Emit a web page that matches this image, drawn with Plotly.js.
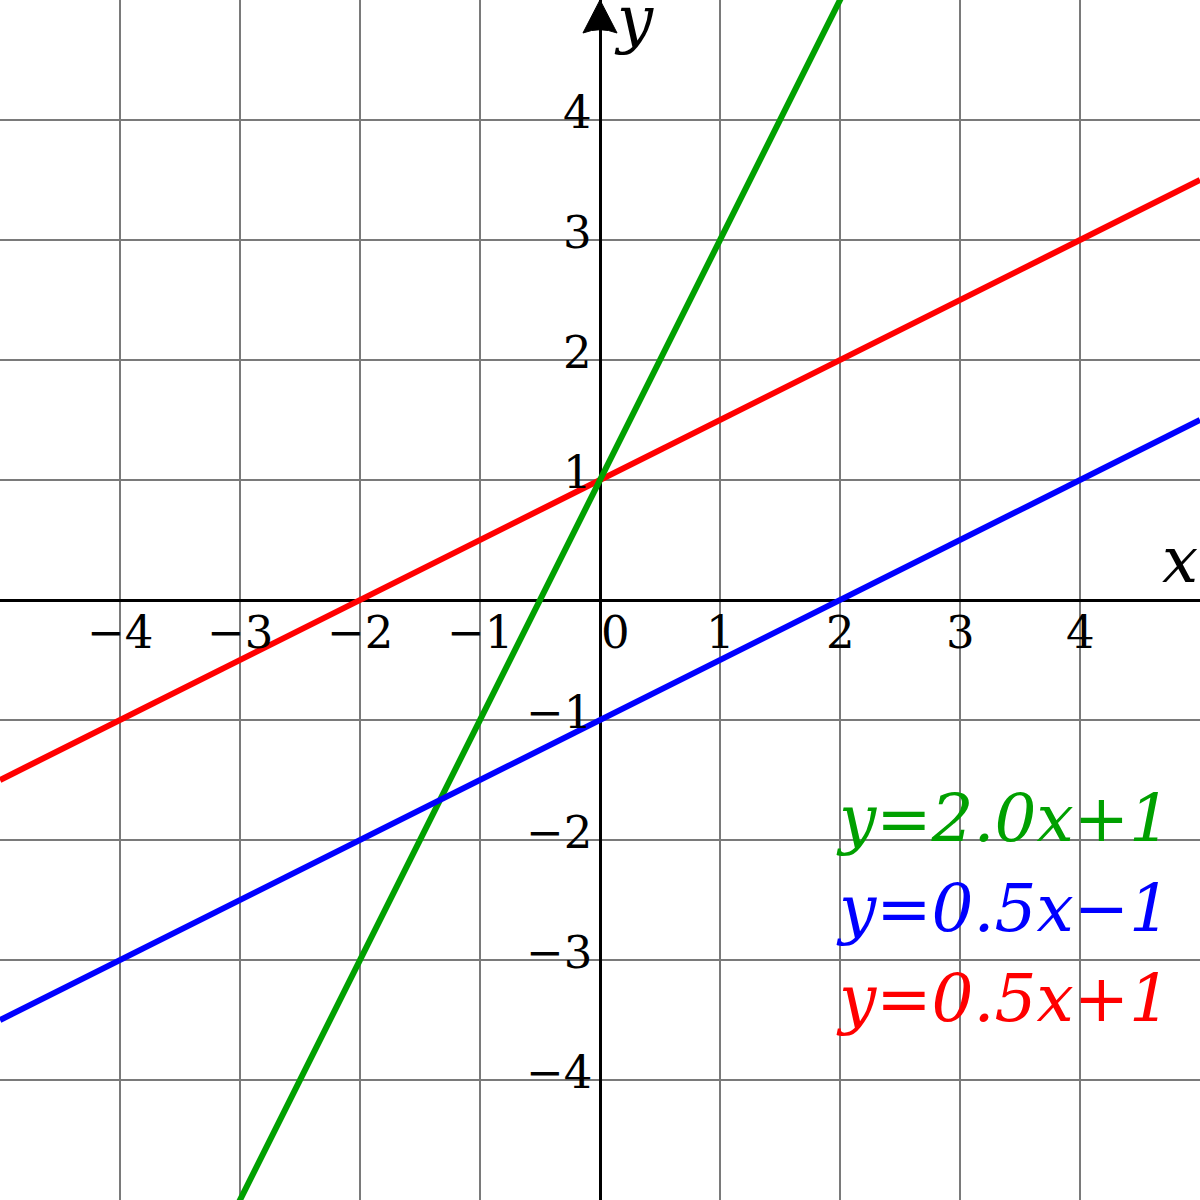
<!DOCTYPE html>
<html>
<head>
<meta charset="utf-8">
<script src="https://cdn.plot.ly/plotly-3.0.1.min.js"></script>
<style>html,body{margin:0;padding:0;background:#fff;}#chart{width:1200px;height:1200px;}</style>
</head>
<body>
<div id="chart"></div>
<script>
// Data
const xEnds = [-5, 5];
const greenY = [-9, 11];     // y = 2.0x + 1
const blueY = [-3.5, 1.5];   // y = 0.5x - 1
const redY = [-1.5, 3.5];    // y = 0.5x + 1
const seriesNames = ['y=2.0x+1', 'y=0.5x−1', 'y=0.5x+1'];
const seriesColors = ['#00a000', '#0000ff', '#ff0000'];
const xTickVals = [-4, -3, -2, -1, 0, 1, 2, 3, 4];
const xTickText = ['−4', '−3', '−2', '−1', '0', '1', '2', '3', '4'];
const yTickVals = [4, 3, 2, 1, -1, -2, -3, -4];
const yTickText = ['4', '3', '2', '1', '−1', '−2', '−3', '−4'];
const eqYs = [-1.82, -2.57, -3.32];

const serif = 'DejaVu Serif';
const seriesY = [greenY, blueY, redY];
// drawing order: red (bottom), green, blue (top)
const drawOrder = [2, 0, 1];
const traces = drawOrder.map(i => ({
  x: xEnds, y: seriesY[i], mode: 'lines', type: 'scatter', name: seriesNames[i],
  line: {color: seriesColors[i], width: 6}, hoverinfo: 'skip'
}));

const annotations = [];
xTickVals.forEach((v, i) => {
  annotations.push({x: v === 0 ? 0.125 : v, y: -0.27, xref: 'x', yref: 'y', text: xTickText[i],
    showarrow: false, xanchor: 'center', yanchor: 'middle',
    font: {family: serif, size: 45, color: '#000'}});
});
yTickVals.forEach((v, i) => {
  annotations.push({x: -0.05, y: v + 0.063, xref: 'x', yref: 'y', text: yTickText[i],
    showarrow: false, xanchor: 'right', yanchor: 'middle',
    font: {family: serif, size: 45, color: '#000'}});
});
seriesNames.forEach((t, i) => {
  annotations.push({x: 1.95, y: eqYs[i], xref: 'x', yref: 'y', text: t,
    showarrow: false, xanchor: 'left', yanchor: 'middle',
    font: {family: serif, size: 66, color: seriesColors[i], style: 'italic'}});
});
annotations.push({x: 5, y: 0.333, xref: 'x', yref: 'y', text: 'x', showarrow: false,
  xanchor: 'right', yanchor: 'middle', font: {family: serif, size: 64, color: '#000', style: 'italic'}});
annotations.push({x: 0.1, y: 4.845, xref: 'x', yref: 'y', text: 'y', showarrow: false,
  xanchor: 'left', yanchor: 'middle', font: {family: serif, size: 64, color: '#000', style: 'italic'}});

const axisBase = {
  range: [-5, 5], dtick: 1, tick0: 0, showgrid: true, gridcolor: '#7a7a7a', gridwidth: 2,
  zeroline: true, zerolinecolor: '#000', zerolinewidth: 3,
  showticklabels: false, ticks: '', showline: true, mirror: true, linecolor: '#7a7a7a', linewidth: 2,
  fixedrange: true
};

const layout = {
  width: 1200, height: 1200,
  margin: {l: 0, r: 0, t: 0, b: 0, pad: 0},
  paper_bgcolor: '#fff', plot_bgcolor: '#fff',
  showlegend: false,
  xaxis: Object.assign({}, axisBase),
  yaxis: Object.assign({}, axisBase),
  annotations: annotations,
  shapes: [{
    type: 'path', xref: 'x', yref: 'y',
    path: 'M -0.142,4.725 L 0,5 L 0.142,4.725 Q 0,4.78 -0.142,4.725 Z',
    fillcolor: '#000', line: {color: '#000', width: 1}, layer: 'above'
  }]
};

Plotly.newPlot('chart', traces, layout, {displayModeBar: false, staticPlot: true});
</script>
</body>
</html>
